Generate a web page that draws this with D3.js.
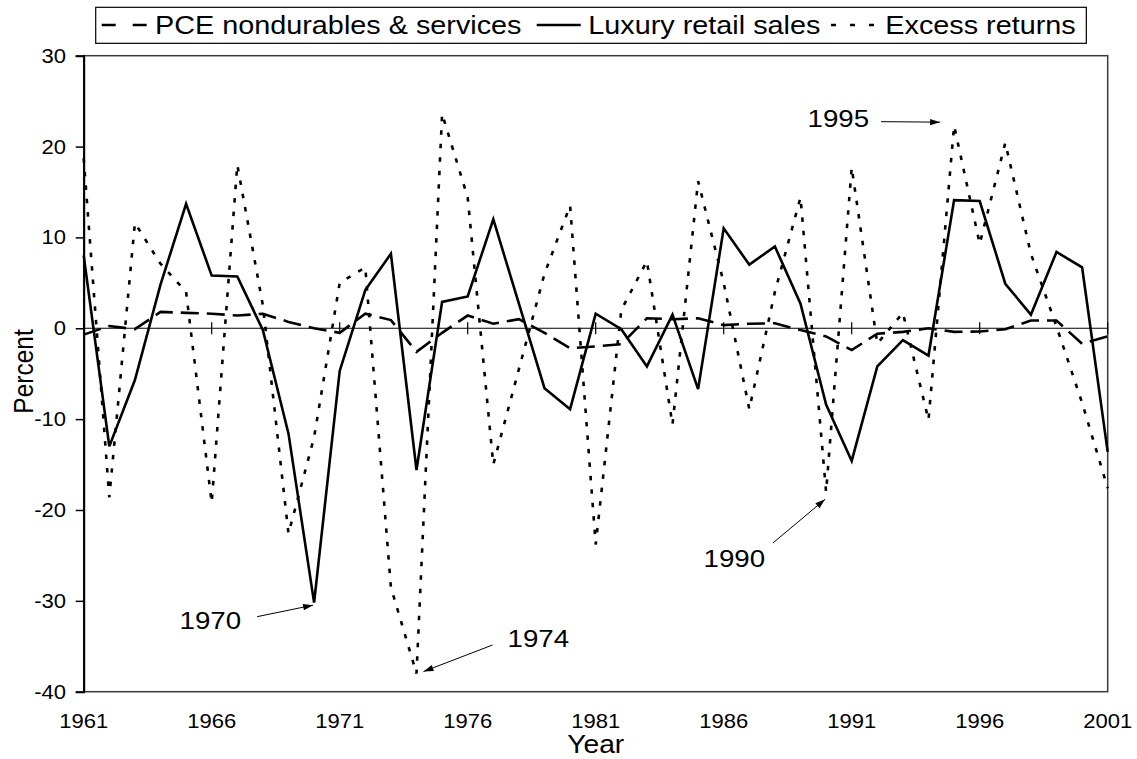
<!DOCTYPE html>
<html>
<head>
<meta charset="utf-8">
<script src="https://cdn.jsdelivr.net/npm/d3@7"></script>
<style>
  body { margin: 0; background: #fff; }
  svg { display: block; font-family: "Liberation Sans", Arial, sans-serif; }
</style>
</head>
<body>
<script>
// chart data
const years = d3.range(1961, 2002);
const pceNondurables = [-0.7, 0.25, -0.1, 1.8, 1.7, 1.6, 1.4, 1.6, 0.7, 0.0,
  -0.5, 1.6, 0.9, -2.6, -0.5, 1.4, 0.5, 1.0, -0.5, -2.2,
  -2.0, -1.75, 1.1, 1.0, 1.1, 0.35, 0.5, 0.55, -0.2, -0.9,
  -2.4, -0.6, -0.4, 0.0, -0.4, -0.35, -0.1, 0.85, 0.85, -1.7, -0.9];
const luxuryRetail = [8.0, -13.0, -5.7, 4.8, 13.7, 5.8, 5.7, -0.2, -11.6, -30.2,
  -4.7, 4.2, 8.2, -15.6, 2.9, 3.5, 12.0, 2.7, -6.6, -8.9,
  1.6, -0.1, -4.2, 1.5, -6.7, 11.0, 7.0, 9.0, 2.7, -8.4,
  -14.6, -4.2, -1.3, -3.0, 14.1, 14.0, 4.9, 1.5, 8.4, 6.7, -13.6];
const excessReturns = [18.7, -18.6, 11.6, 7.1, 4.0, -19.2, 18.0, 2.5, -22.6, -12.0,
  5.0, 6.7, -28.5, -38.0, 23.6, 14.4, -15.0, -4.5, 6.0, 13.5,
  -23.8, 2.0, 7.4, -10.6, 16.2, 5.0, -8.9, 4.0, 14.4, -18.0,
  17.7, -1.7, 1.7, -10.1, 22.3, 9.3, 20.4, 8.2, 0.2, -8.2, -17.6];
const seriesNames = ["PCE nondurables & services", "Luxury retail sales", "Excess returns"];
const yTicks = [-40, -30, -20, -10, 0, 10, 20, 30];
const xTicks = [1961, 1966, 1971, 1976, 1981, 1986, 1991, 1996, 2001];
// annotated years and the series they point at
const noteYears = [1970, 1974, 1990, 1995];
const noteSeries = ["lux", "ret", "ret", "ret"];

const width = 1137, height = 759;
const plot = { left: 83.7, right: 1107.7, top: 55.7, bottom: 691.7 };
const stretch = 1.13; // the reference text is a little wide

const svg = d3.select("body").append("svg")
  .attr("width", width)
  .attr("height", height);

const x = d3.scaleLinear().domain([1961, 2001]).range([plot.left, plot.right]);
const y = d3.scaleLinear().domain([-40, 30]).range([plot.bottom, plot.top]);

// helper for the wide text
function wideText(sel, px, py, size, anchor, str) {
  return sel.append("text")
    .attr("transform", "translate(" + px + "," + py + ") scale(" + stretch + ",1)")
    .attr("text-anchor", anchor)
    .style("font-size", size + "px")
    .attr("fill", "#000")
    .text(str);
}

// plot frame
svg.append("rect")
  .attr("x", plot.left).attr("y", plot.top)
  .attr("width", plot.right - plot.left).attr("height", plot.bottom - plot.top)
  .attr("fill", "none").attr("stroke", "#3a3a3a").attr("stroke-width", 1.5);

// y axis
const yAxis = svg.append("g")
  .attr("transform", "translate(" + plot.left + ",0)")
  .call(d3.axisLeft(y).tickValues(yTicks).tickSize(8).tickFormat(""));
yAxis.select(".domain").attr("stroke", "#000").attr("stroke-width", 2);
yAxis.selectAll(".tick line").attr("stroke", "#000").attr("stroke-width", 1.5);
yTicks.forEach(t => wideText(svg, 66, y(t) + 7, 19.5, "end", t));

// zero line with crossing ticks
svg.append("line")
  .attr("x1", plot.left).attr("x2", plot.right)
  .attr("y1", y(0)).attr("y2", y(0))
  .attr("stroke", "#000").attr("stroke-width", 1.2);
svg.selectAll(".xtick")
  .data(xTicks)
  .enter().append("line")
  .attr("class", "xtick")
  .attr("x1", d => x(d)).attr("x2", d => x(d))
  .attr("y1", y(0) - 6).attr("y2", y(0) + 6)
  .attr("stroke", "#000").attr("stroke-width", 1.2);
xTicks.forEach(t => wideText(svg, x(t), 727.5, 19.5, "middle", t));

// axis titles
wideText(svg, (plot.left + plot.right) / 2, 753, 25, "middle", "Year");
svg.append("text")
  .attr("transform", "translate(33," + 371.5 + ") rotate(-90) scale(1," + stretch + ")")
  .attr("text-anchor", "middle")
  .style("font-size", "24.5px")
  .text("Percent");

// the three series
const line = d3.line().x((d, i) => x(years[i])).y(d => y(d));
const styles = [
  { data: pceNondurables, dash: "18,8" },
  { data: luxuryRetail, dash: null },
  { data: excessReturns, dash: "4.5,9" }
];
svg.selectAll(".series")
  .data(styles)
  .enter().append("path")
  .attr("class", "series")
  .attr("d", d => line(d.data))
  .attr("fill", "none")
  .attr("stroke", "#000")
  .attr("stroke-width", 2.6)
  .attr("stroke-dasharray", d => d.dash);

// annotations
svg.append("defs").append("marker")
  .attr("id", "arrow")
  .attr("viewBox", "0 -4 10 8")
  .attr("refX", 10).attr("refY", 0)
  .attr("markerUnits", "userSpaceOnUse")
  .attr("markerWidth", 11).attr("markerHeight", 8)
  .attr("orient", "auto")
  .append("path").attr("d", "M0,-3.2L10,0L0,3.2Z").attr("fill", "#000");

// offsets (px) from the data point: arrow tip, arrow tail, label
const noteOffsets = [
  { tip: [-1, 2.5], tail: [-57, 14], label: [-73, 26.5], anchor: "end" },
  { tip: [7, -2], tail: [76, -28.5], label: [91, -27], anchor: "start" },
  { tip: [-1, 7.5], tail: [-53, 51], label: [-61, 75], anchor: "end" },
  { tip: [-14, -3.5], tail: [-73, -4], label: [-85, 1.5], anchor: "end" }
];
noteYears.forEach((yr, i) => {
  const vals = noteSeries[i] === "lux" ? luxuryRetail : excessReturns;
  const px = x(yr), py = y(vals[yr - 1961]);
  const o = noteOffsets[i];
  svg.append("line")
    .attr("x1", px + o.tail[0]).attr("y1", py + o.tail[1])
    .attr("x2", px + o.tip[0]).attr("y2", py + o.tip[1])
    .attr("stroke", "#000").attr("stroke-width", 1)
    .attr("marker-end", "url(#arrow)");
  wideText(svg, px + o.label[0], py + o.label[1], 24.5, o.anchor, yr);
});

// legend
const legend = svg.append("g");
legend.append("rect")
  .attr("x", 95.7).attr("y", 7.3)
  .attr("width", 1086.3 - 95.7).attr("height", 36)
  .attr("fill", "#fff").attr("stroke", "#000").attr("stroke-width", 1.2);
const legendItems = [
  { x1: 101.7, x2: 148.3, tx: 155, dash: "14,17" },
  { x1: 536.7, x2: 580.7, tx: 588.3, dash: null },
  { x1: 831, x2: 874, tx: 885.3, dash: "5,14" }
];
legendItems.forEach((d, i) => {
  legend.append("line")
    .attr("x1", d.x1).attr("x2", d.x2)
    .attr("y1", 25).attr("y2", 25)
    .attr("stroke", "#000").attr("stroke-width", 2.6)
    .attr("stroke-dasharray", d.dash);
  wideText(legend, d.tx, 34.3, 25.5, "start", seriesNames[i]);
});
</script>
</body>
</html>
